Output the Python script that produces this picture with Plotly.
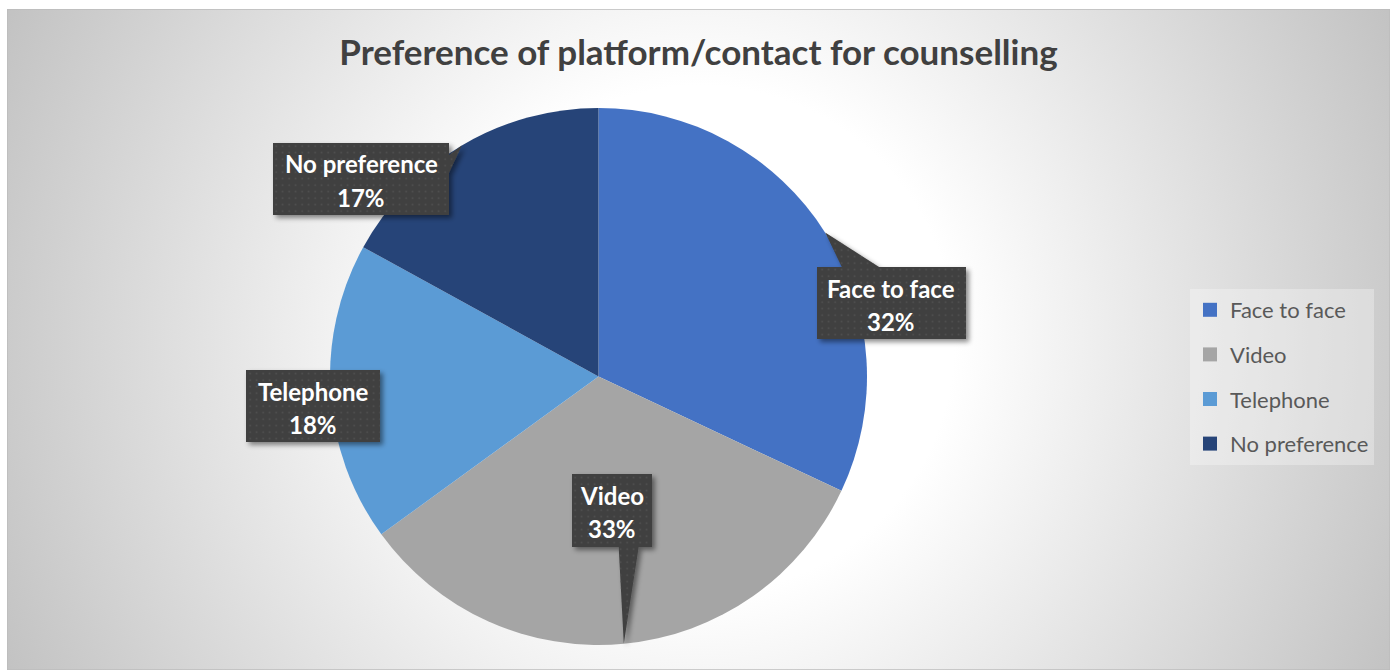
import base64
import math
import plotly.graph_objects as go

# ---- data ---------------------------------------------------------------
categories = ["Face to face", "Video", "Telephone", "No preference"]
shares = [32, 33, 18, 17]  # percent of respondents
colors = ["#4472C4", "#A5A5A5", "#5B9BD5", "#264478"]

title_text = "Preference of platform/contact for counselling"

# ---- layout constants (pixels) ----------------------------------------------
W, H = 1397, 671
PIE_CX, PIE_CY, PIE_R = 598.5, 376.5, 268.5
CHART_BOX = (7, 9, 1390, 670)  # chart area inside the page

# callout boxes for the data labels: (centre x, centre y, width, height)
label_boxes = [
    (891.5, 303, 149, 72),
    (612, 510.5, 80, 73),
    (313, 406, 134, 72),
    (361, 179, 176, 72),
]

FONT = "Lato, 'Open Sans', sans-serif"


def px(x):
    return x / W


def py(y):
    return 1 - y / H


# ---- slice mid-angles -> callout pointer tips on the pie rim --------------
total = sum(shares)
tips = []
cum = 0
for v in shares:
    theta = 2 * math.pi * (cum + v / 2) / total
    tips.append((PIE_CX + PIE_R * math.sin(theta), PIE_CY - PIE_R * math.cos(theta)))
    cum += v


def callout_points(box, tip):
    cx, cy, w, h = box
    x0, y0, x1, y1 = cx - w / 2, cy - h / 2, cx + w / 2, cy + h / 2
    tx, ty = tip
    rect = [(x0, y0), (x1, y0), (x1, y1), (x0, y1)]
    if x0 <= tx <= x1 and y0 <= ty <= y1:
        return rect
    dx, dy = tx - cx, ty - cy
    if abs(dx) / w > abs(dy) / h:
        a, b = (y0 + h * 2 / 12, y0 + h * 5 / 12) if dy < 0 else (y0 + h * 7 / 12, y0 + h * 10 / 12)
        if dx > 0:
            return [(x0, y0), (x1, y0), (x1, a), (tx, ty), (x1, b), (x1, y1), (x0, y1)]
        return [(x0, y0), (x1, y0), (x1, y1), (x0, y1), (x0, b), (tx, ty), (x0, a)]
    a, b = (x0 + w * 2 / 12, x0 + w * 5 / 12) if dx < 0 else (x0 + w * 7 / 12, x0 + w * 10 / 12)
    if dy < 0:
        return [(x0, y0), (a, y0), (tx, ty), (b, y0), (x1, y0), (x1, y1), (x0, y1)]
    return [(x0, y0), (x1, y0), (x1, y1), (b, y1), (tx, ty), (a, y1), (x0, y1)]


def svg_uri(svg):
    return "data:image/svg+xml;base64," + base64.b64encode(svg.encode("utf-8")).decode("ascii")


# ---- chart-area background: radial grey gradient -------------------------
bx0, by0, bx1, by1 = CHART_BOX
bw, bh = bx1 - bx0, by1 - by0
bg_svg = f"""<svg xmlns="http://www.w3.org/2000/svg" width="{bw}" height="{bh}" viewBox="0 0 {bw} {bh}" preserveAspectRatio="none">
<defs><radialGradient id="g" gradientUnits="userSpaceOnUse" cx="{700 - bx0}" cy="{340 - by0}" r="770">
<stop offset="0" stop-color="#ffffff"/><stop offset="0.33" stop-color="#ffffff"/>
<stop offset="1" stop-color="#c2c2c2"/></radialGradient></defs>
<rect x="0" y="0" width="{bw}" height="{bh}" fill="url(#g)" stroke="#bcbcbc" stroke-width="1.5"/>
</svg>"""

# ---- dark textured callouts with soft shadow -----------------------------
paths = []
for box, tip in zip(label_boxes, tips):
    pts = callout_points(box, tip)
    paths.append("M" + " L".join(f"{x:.1f},{y:.1f}" for x, y in pts) + " Z")

callout_svg = f"""<svg xmlns="http://www.w3.org/2000/svg" width="{W}" height="{H}" viewBox="0 0 {W} {H}">
<defs>
<pattern id="dots" width="6.5" height="6.5" patternUnits="userSpaceOnUse">
<rect x="2.4" y="2.4" width="1.5" height="1.5" fill="#535353"/></pattern>
<filter id="sh" x="-20%" y="-20%" width="140%" height="140%">
<feDropShadow dx="3" dy="3" stdDeviation="2.5" flood-color="#000" flood-opacity="0.45"/></filter>
</defs>
{''.join(f'<path d="{d}" fill="#404040" filter="url(#sh)"/>' for d in paths)}
{''.join(f'<path d="{d}" fill="url(#dots)"/>' for d in paths)}
</svg>"""

# ---- figure ------------------------------------------------------------
fig = go.Figure()

fig.add_trace(
    go.Pie(
        labels=categories,
        values=shares,
        marker=dict(colors=colors, line=dict(width=0)),
        sort=False,
        direction="clockwise",
        rotation=0,
        textinfo="none",
        hoverinfo="label+percent",
        showlegend=False,
        domain=dict(x=[px(PIE_CX - PIE_R), px(PIE_CX + PIE_R)],
                    y=[py(PIE_CY + PIE_R), py(PIE_CY - PIE_R)]),
    )
)

# legend entries, one group each so the rows can be spaced out
for i, (name, col) in enumerate(zip(categories, colors)):
    fig.add_trace(
        go.Scatter(
            x=[None], y=[None], mode="markers", name=name,
            marker=dict(symbol="square", size=14, color=col),
            legendgroup=f"g{i}", showlegend=True, hoverinfo="skip",
        )
    )

annotations = []
for name, v, (cx, cy, w, h) in zip(categories, shares, label_boxes):
    annotations.append(dict(
        x=px(cx), y=py(cy - 15), xref="paper", yref="paper", text=name,
        showarrow=False, xanchor="center", yanchor="middle",
        font=dict(family=FONT, size=24, color="white", weight="bold"),
    ))
    annotations.append(dict(
        x=px(cx), y=py(cy + 18), xref="paper", yref="paper", text=f"{v}%",
        showarrow=False, xanchor="center", yanchor="middle",
        font=dict(family=FONT, size=24, color="white", weight="bold"),
    ))

fig.update_layout(
    width=W, height=H, autosize=False,
    margin=dict(l=0, r=0, t=0, b=0, pad=0),
    paper_bgcolor="white", plot_bgcolor="rgba(0,0,0,0)",
    xaxis=dict(visible=False, range=[0, 1], fixedrange=True),
    yaxis=dict(visible=False, range=[0, 1], fixedrange=True),
    title=dict(text=f"<b>{title_text}</b>", x=0.5, xanchor="center",
               y=py(53), yanchor="middle", yref="paper",
               font=dict(family=FONT, size=35, color="#404040")),
    legend=dict(
        x=px(1190), y=py(289), xanchor="left", yanchor="top",
        bgcolor="rgba(255,255,255,0.3)", borderwidth=0,
        font=dict(family=FONT, size=22, color="#595959"),
        tracegroupgap=13, itemsizing="trace",
    ),
    images=[
        dict(source=svg_uri(bg_svg), xref="paper", yref="paper",
             x=px(bx0), y=py(by0), sizex=bw / W, sizey=bh / H,
             xanchor="left", yanchor="top", sizing="stretch", layer="below"),
        dict(source=svg_uri(callout_svg), xref="paper", yref="paper",
             x=0, y=1, sizex=1, sizey=1, xanchor="left", yanchor="top",
             sizing="stretch", layer="above"),
    ],
    annotations=annotations,
)

fig.write_html("out.html")
